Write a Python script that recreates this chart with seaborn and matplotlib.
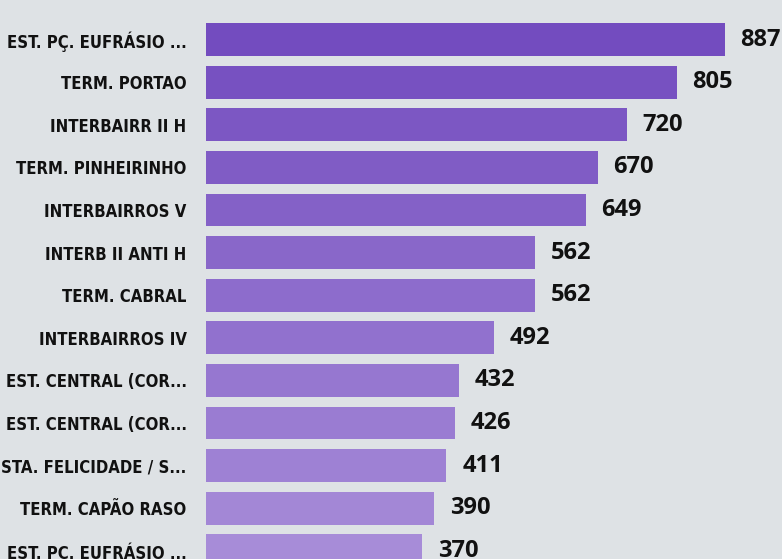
import matplotlib
matplotlib.use("Agg")
import matplotlib.pyplot as plt
import matplotlib.colors as mcolors
from matplotlib import font_manager as fm
import numpy as np
import pandas as pd
import seaborn as sns

labels = [
    "EST. PÇ. EUFRÁSIO ...",
    "TERM. PORTAO",
    "INTERBAIRR II H",
    "TERM. PINHEIRINHO",
    "INTERBAIRROS V",
    "INTERB II ANTI H",
    "TERM. CABRAL",
    "INTERBAIRROS IV",
    "EST. CENTRAL (COR...",
    "EST. CENTRAL (COR...",
    "STA. FELICIDADE / S...",
    "TERM. CAPÃO RASO",
    "EST. PÇ. EUFRÁSIO ...",
]
values = [887, 805, 720, 670, 649, 562, 562, 492, 432, 426, 411, 390, 370]

ids = [f"r{i}" for i in range(len(labels))]
df = pd.DataFrame({"id": ids, "label": labels, "value": values})

c_top = np.array(mcolors.to_rgb("#734cbf"))
c_bot = np.array(mcolors.to_rgb("#a78cd8"))
n = len(values)
palette = [tuple(c_top + (c_bot - c_top) * i / (n - 1)) for i in range(n)]

sns.set_theme(style="white")
bg = "#dee2e5"
fig = plt.figure(figsize=(7.82, 5.59), dpi=100, facecolor=bg)
ax = fig.add_axes([206 / 782, 0, 1 - 206 / 782, 1])
ax.set_facecolor(bg)

sns.barplot(data=df, y="id", x="value", hue="id", order=ids, hue_order=ids,
            palette=palette, orient="h", legend=False, width=0.77,
            saturation=1, linewidth=0, edgecolor="none", ax=ax)

ax.set_xlim(0, 985)
ax.set_ylim(12.19, -0.927)
ax.set_xlabel("")
ax.set_ylabel("")
ax.set_xticks([])
ax.set_yticks(range(n))
ax.set_yticklabels(labels)
for t in ax.get_yticklabels():
    t.set_fontproperties(fm.FontProperties(family="DejaVu Sans", weight="bold",
                                           stretch="condensed", size=12))
    t.set_color("#111111")
ax.tick_params(axis="y", length=0, pad=14)
for s in ax.spines.values():
    s.set_visible(False)

for i, v in enumerate(values):
    ax.text(v + 27, i, f"{v}", va="center", ha="left", fontsize=17,
            fontweight="bold", family=["Open Sans", "DejaVu Sans"], color="#111111")

fig.savefig("out.png", dpi=100, facecolor=bg)
